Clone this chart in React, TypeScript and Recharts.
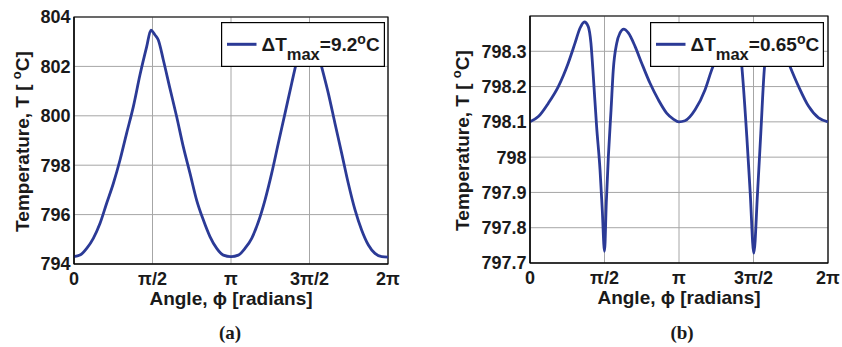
import React from "react";
import {
  LineChart,
  Line,
  XAxis,
  YAxis,
  CartesianGrid,
  Legend,
  ReferenceArea,
  Label,
} from "recharts";

const PI = Math.PI;
const FONT = '"Liberation Sans", Arial, Helvetica, sans-serif';
const SERIF = '"Liberation Serif", "Times New Roman", serif';
const LINE_COLOR = "#2b3a96";
const TEXT_COLOR = "#1a1a1a";

// angle in multiples of pi
const xTicks = [0, 0.5, 1, 1.5, 2];
const xTickLabels = ["0", "\u03c0/2", "\u03c0", "3\u03c0/2", "2\u03c0"];

// panel (a)
const phiA = [
  0, 0.038, 0.081, 0.123, 0.166, 0.208, 0.251, 0.293, 0.335, 0.378, 0.42,
  0.463, 0.49, 0.516, 0.537, 0.569, 0.611, 0.654, 0.696, 0.739, 0.781, 0.824,
  0.866, 0.909, 0.951, 1.0, 1.047, 1.089, 1.132, 1.174, 1.217, 1.259, 1.301,
  1.344, 1.386, 1.43, 1.465, 1.49, 1.515, 1.54, 1.577, 1.62, 1.662, 1.705,
  1.747, 1.79, 1.832, 1.875, 1.917, 1.96, 2.0,
];
const tempA = [
  794.3, 794.36, 794.63, 795.04, 795.65, 796.46, 797.27, 798.21, 799.29,
  800.37, 801.65, 802.8, 803.47, 803.27, 803.07, 802.26, 801.11, 799.96,
  798.75, 797.67, 796.59, 795.78, 795.11, 794.63, 794.36, 794.3, 794.36,
  794.63, 795.04, 795.7, 796.6, 797.67, 798.88, 800.1, 801.3, 802.5, 803.2,
  803.45, 803.25, 802.9, 801.99, 800.91, 799.7, 798.48, 797.27, 796.19,
  795.38, 794.77, 794.43, 794.3, 794.28,
];
const yTicksA = [794, 796, 798, 800, 802, 804];

// panel (b)
const phiB = [
  0, 0.056, 0.123, 0.19, 0.257, 0.302, 0.336, 0.365, 0.391, 0.409, 0.425,
  0.447, 0.47, 0.485, 0.5, 0.512, 0.526, 0.544, 0.559, 0.582, 0.604, 0.629,
  0.66, 0.705, 0.749, 0.805, 0.861, 0.917, 0.962, 1.0, 1.04, 1.108, 1.175,
  1.22, 1.26, 1.3, 1.335, 1.365, 1.39, 1.41, 1.422, 1.455, 1.478, 1.502,
  1.527, 1.549, 1.574, 1.6, 1.63, 1.66, 1.705, 1.747, 1.803, 1.87, 1.937, 2.0,
];
const tempB = [
  798.1, 798.115, 798.153, 798.2, 798.267, 798.323, 798.366, 798.383, 798.37,
  798.323, 798.229, 798.087, 797.964, 797.851, 797.733, 797.87, 798.002,
  798.134, 798.248, 798.323, 798.352, 798.363, 798.352, 798.314, 798.267,
  798.21, 798.163, 798.125, 798.108, 798.1, 798.103, 798.134, 798.191,
  798.248, 798.29, 798.325, 798.345, 798.35, 798.34, 798.31, 798.256, 798.059,
  797.898, 797.728, 797.898, 798.068, 798.256, 798.315, 798.34, 798.335,
  798.3, 798.255, 798.2, 798.144, 798.111, 798.1,
];
const yTicksB = [797.7, 797.8, 797.9, 798, 798.1, 798.2, 798.3];

const deltaTmax = ["9.2", "0.65"];

const toRows = (phi: number[], temp: number[]) =>
  phi.map((p, i) => ({ phi: p * PI, temp: temp[i] }));

const dataA = toRows(phiA, tempA);
const dataB = toRows(phiB, tempB);

function LegendBox({ w, h, value, color }: any) {
  return (
    <svg width={w} height={h} style={{ display: "block" }}>
      <rect x={0.6} y={0.6} width={w - 1.2} height={h - 1.2} fill="#fff" stroke="#000" strokeWidth={1.2} />
      <line x1={6} x2={35.5} y1={22.3} y2={22.3} stroke={color} strokeWidth={3} />
      <text x={40.5} y={28.7} fontFamily={FONT} fontWeight="bold" fontSize={19} fill={TEXT_COLOR}>
        {"\u0394T"}
        <tspan fontSize={16.5} dy={9.3}>max</tspan>
        <tspan dy={-9.3}>={value}</tspan>
        <tspan fontSize={14} dy={-6.5}>o</tspan>
        <tspan dy={6.5}>C</tspan>
      </text>
    </svg>
  );
}

function Panel(props: any) {
  const {
    data, left, width, margin, yAxisWidth, xAxisHeight, yDomain, yTicks,
    legendPos, legendValue, yTitleX, caption, captionX,
  } = props;
  const tickStyle = { fill: TEXT_COLOR, fontSize: 18, fontWeight: "bold", fontFamily: FONT };
  return (
    <div style={{ position: "absolute", left, top: 0, width, height: 347 }}>
      <LineChart width={width} height={347} data={data} margin={margin}>
        <CartesianGrid stroke="#a6a6a6" strokeWidth={1} />
        <XAxis
          type="number"
          dataKey="phi"
          domain={[0, 2 * PI]}
          ticks={xTicks.map((t) => t * PI)}
          tickFormatter={(_v: number, i: number) => xTickLabels[i]}
          height={xAxisHeight}
          tickSize={0}
          tickMargin={8}
          tick={tickStyle}
          axisLine={{ stroke: "#000", strokeWidth: 1.2 }}
          interval={0}
        >
          <Label
            content={({ viewBox }: any) => (
              <text
                x={viewBox.x + viewBox.width / 2}
                y={viewBox.y + 40.5}
                textAnchor="middle"
                fontFamily={FONT}
                fontWeight="bold"
                fontSize={19}
                fill={TEXT_COLOR}
              >
                {"Angle, \u03d5 [radians]"}
              </text>
            )}
          />
        </XAxis>
        <YAxis
          type="number"
          domain={yDomain}
          ticks={yTicks}
          allowDataOverflow
          width={yAxisWidth}
          tickSize={0}
          tickMargin={3.5}
          tick={tickStyle}
          tickFormatter={(v: number) => String(Number(v.toFixed(1)))}
          axisLine={{ stroke: "#000", strokeWidth: 1.2 }}
          interval={0}
        >
          <Label
            content={({ viewBox }: any) => {
              const x = viewBox.x + yTitleX;
              const y = viewBox.y + viewBox.height / 2 + 1;
              return (
                <text
                  x={x}
                  y={y}
                  transform={`rotate(-90, ${x}, ${y})`}
                  textAnchor="middle"
                  fontFamily={FONT}
                  fontWeight="bold"
                  fontSize={19}
                  fill={TEXT_COLOR}
                >
                  {"Temperature, T [ "}
                  <tspan fontSize={13} dy={-8}>o</tspan>
                  <tspan dy={8}>C]</tspan>
                </text>
              );
            }}
          />
        </YAxis>
        <ReferenceArea
          x1={0}
          x2={2 * PI}
          y1={yDomain[0]}
          y2={yDomain[1]}
          fill="none"
          stroke="#000"
          strokeWidth={1.2}
          ifOverflow="visible"
        />
        <Line
          type="monotone"
          dataKey="temp"
          name="dT"
          stroke={LINE_COLOR}
          strokeWidth={2.8}
          dot={false}
          isAnimationActive={false}
        />
        <Legend
          layout="horizontal"
          align="center"
          verticalAlign="middle"
          width={legendPos.w}
          height={legendPos.h}
          wrapperStyle={{ left: legendPos.x, top: legendPos.y, width: legendPos.w, height: legendPos.h }}
          content={(p: any) => (
            <LegendBox
              w={legendPos.w}
              h={legendPos.h}
              value={legendValue}
              color={p.payload?.[0]?.color || LINE_COLOR}
            />
          )}
        />
      </LineChart>
      <div
        style={{
          position: "absolute",
          left: captionX - 30,
          width: 60,
          top: 322,
          textAlign: "center",
          fontFamily: SERIF,
          fontWeight: "bold",
          fontSize: 19,
          color: TEXT_COLOR,
          lineHeight: "22px",
        }}
      >
        {caption}
      </div>
    </div>
  );
}

export default function App() {
  return (
    <div style={{ position: "relative", width: 842, height: 347, background: "#fff", overflow: "hidden" }}>
      <style>{"body{margin:0;}"}</style>
      <Panel
        data={dataA}
        left={0}
        width={420}
        margin={{ top: 17, right: 32, bottom: 0, left: 0 }}
        yAxisWidth={74}
        xAxisHeight={83}
        yDomain={[794, 804]}
        yTicks={yTicksA}
        legendPos={{ x: 221, y: 22, w: 164, h: 45 }}
        legendValue={deltaTmax[0]}
        yTitleX={29}
        caption="(a)"
        captionX={230}
      />
      <Panel
        data={dataB}
        left={420}
        width={422}
        margin={{ top: 16, right: 14, bottom: 0, left: 0 }}
        yAxisWidth={110}
        xAxisHeight={84}
        yDomain={[797.7, 798.4]}
        yTicks={yTicksB}
        legendPos={{ x: 230, y: 22, w: 174, h: 45 }}
        legendValue={deltaTmax[1]}
        yTitleX={49}
        caption="(b)"
        captionX={262}
      />
    </div>
  );
}
